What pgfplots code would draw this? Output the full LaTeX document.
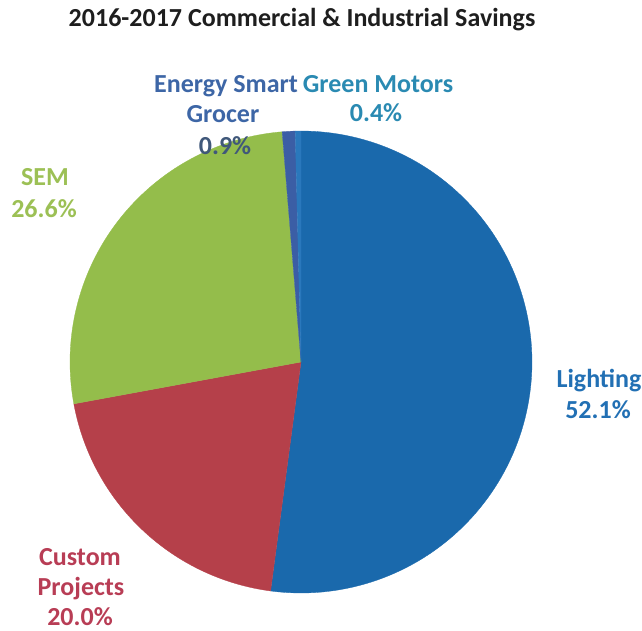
\documentclass[border=0pt]{standalone}
\usepackage{pgfplots}
\pgfplotsset{compat=1.18}
\usepackage{pgfplotstable}
\usepackage{fontspec}
\setmainfont{Carlito}

\definecolor{titlegray}{HTML}{1E1E1E}
\definecolor{lightingC}{HTML}{1A69AC}
\definecolor{customC}{HTML}{B5404A}
\definecolor{semC}{HTML}{94BD4B}
\definecolor{esgC}{HTML}{3B5EA5}
\definecolor{gmC}{HTML}{2A78BC}
\definecolor{lightingT}{HTML}{2270B4}
\definecolor{customT}{HTML}{B83D55}
\definecolor{semT}{HTML}{9CC055}
\definecolor{esgT}{HTML}{3D66A6}
\definecolor{esgPct}{HTML}{40587A}
\definecolor{gmT}{HTML}{2A8AB2}

% share of savings by program, in pie order (clockwise from the top)
\pgfplotstableread{
program  pct   col
Lighting 52.1  lightingC
Custom   20.0  customC
SEM      26.6  semC
ESG      0.9   esgC
GM       0.4   gmC
}\savings

\begin{document}
\begin{tikzpicture}
  \path[use as bounding box] (0pt,0pt) rectangle (642pt,630pt);

  \begin{axis}[
    at={(301pt,268pt)}, anchor=center,
    scale only axis, width=462pt, height=462pt,
    xmin=-1, xmax=1, ymin=-1, ymax=1,
    hide axis, clip=false,
  ]
    \pgfplotstablegetrowsof{\savings}
    \pgfmathtruncatemacro\lastrow{\pgfplotsretval-1}
    \def\startang{90}
    \pgfplotsforeachungrouped \i in {0,...,\lastrow}{%
      \pgfplotstablegetelem{\i}{pct}\of\savings
      \pgfmathsetmacro\endang{\startang-3.6*\pgfplotsretval}%
      \pgfplotstablegetelem{\i}{col}\of\savings
      \let\slicecol\pgfplotsretval
      \edef\doslice{\noexpand\addplot[draw=\slicecol, line width=0.3pt,
        fill=\slicecol, domain=\endang:\startang, samples=120]
        ({cos(x)},{sin(x)}) -- (axis cs:0,0) -- cycle;}%
      \doslice
      \global\let\startang\endang
    }
  \end{axis}

  \begin{scope}[every node/.style={anchor=base, inner sep=0pt,
      font=\fontsize{26}{31}\selectfont\bfseries}]
    % title
    \node[text=titlegray] at (302pt,603pt) {2016-2017 Commercial \& Industrial Savings};
    % Energy Smart Grocer
    \node[text=esgT] at (226pt,537pt) {Energy Smart};
    \node[text=esgT] at (223pt,507pt) {Grocer};
    \node[text=esgPct] at (225pt,475pt) {0.9\%};
    % Green Motors
    \node[text=gmT] at (378pt,537pt) {Green Motors};
    \node[text=gmT] at (376pt,508pt) {0.4\%};
    % SEM
    \node[text=semT] at (45pt,444pt) {SEM};
    \node[text=semT] at (44pt,412pt) {26.6\%};
    % Lighting
    \node[text=lightingT] at (599pt,243pt) {Lighting};
    \node[text=lightingT] at (598pt,212pt) {52.1\%};
    % Custom Projects
    \node[text=customT] at (80pt,65pt) {Custom};
    \node[text=customT] at (81pt,35pt) {Projects};
    \node[text=customT] at (80pt,5pt) {20.0\%};
  \end{scope}
\end{tikzpicture}
\end{document}
